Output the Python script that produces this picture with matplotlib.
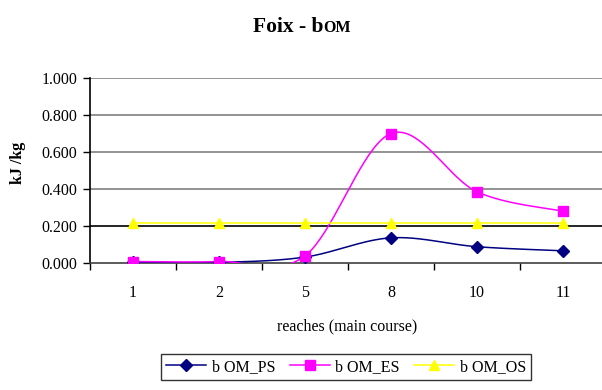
import numpy as np
import matplotlib
matplotlib.use("Agg")
import matplotlib.pyplot as plt
from matplotlib.lines import Line2D

plt.rcParams['font.family'] = ['Liberation Serif', 'DejaVu Serif']

reaches = ["1", "2", "5", "8", "10", "11"]
b_om_ps = [0.003, 0.003, 0.032, 0.136, 0.088, 0.066]
b_om_es = [0.008, 0.008, 0.039, 0.700, 0.385, 0.280]
b_om_os = [0.216, 0.216, 0.216, 0.216, 0.216, 0.216]
y_ticks = [0.0, 0.2, 0.4, 0.6, 0.8, 1.0]


def smooth(xs, ys, n=40):
    """Spline through the points with Bezier segments (Catmull-Rom tangents)."""
    pts = np.column_stack([xs, ys]).astype(float)
    m = len(pts)
    out = [pts[0]]
    t = np.linspace(0, 1, n)[1:, None]
    for i in range(m - 1):
        p0 = pts[max(i - 1, 0)]
        p1 = pts[i]
        p2 = pts[i + 1]
        p3 = pts[min(i + 2, m - 1)]
        c1 = p1 + (p2 - p0) / 6.0
        c2 = p2 - (p3 - p1) / 6.0
        seg = ((1 - t) ** 3) * p1 + 3 * ((1 - t) ** 2) * t * c1 \
            + 3 * (1 - t) * t ** 2 * c2 + t ** 3 * p2
        out.extend(seg)
    out = np.array(out)
    return out[:, 0], out[:, 1]


fig = plt.figure(figsize=(6.02, 3.90), dpi=100)
W, H = 602, 390
ax = fig.add_axes([90 / W, 1 - 263 / H, (606 - 90) / W, (263 - 78) / H])

x = np.arange(len(reaches))
series = [
    (b_om_ps, "#000080", "D", 6, "b OM_PS"),
    (b_om_es, "#FF00FF", "s", 6.5, "b OM_ES"),
    (b_om_os, "#FFFF00", "^", 7.5, "b OM_OS"),
]

# gridlines
for yv in y_ticks[1:]:
    ax.axhline(yv, color="#000000" if abs(yv - 0.2) < 1e-9 else "#808080",
               lw=1.2, zorder=1)

handles = []
for vals, col, mk, ms, lab in series:
    sx, sy = smooth(x, vals)
    ax.plot(sx, sy, color=col, lw=1.1, zorder=3)
    ax.plot(x, vals, ls="none", marker=mk, color=col, ms=ms, zorder=4,
            markeredgecolor=col)
    handles.append(Line2D([], [], color=col, lw=1.1, marker=mk, ms=ms,
                          markeredgecolor=col, label=lab))

ax.set_xlim(-0.5, len(reaches) - 0.5)
ax.set_ylim(0, 1.0)
ax.set_yticks(y_ticks)
ax.set_yticklabels([f"{v:.3f}" for v in y_ticks])
ax.set_xticks(x)
ax.set_xticklabels(reaches)
ax.set_xticks(np.arange(len(reaches) + 1) - 0.5, minor=True)
ax.tick_params(axis="x", which="major", length=0, pad=16, labelsize=11.5)
ax.tick_params(axis="x", which="minor", length=5, width=1, color="#000000",
               direction="out")
ax.tick_params(axis="y", length=5, width=1, direction="out", labelsize=11.5,
               pad=4)

for side in ["top", "right"]:
    ax.spines[side].set_visible(False)
ax.spines["left"].set_color("#000000")
ax.spines["left"].set_linewidth(1.2)
ax.spines["bottom"].set_color("#404040")
ax.spines["bottom"].set_linewidth(1.2)
ax.patch.set_alpha(0)

fig.text(347 / W, 1 - 326 / H, "reaches (main course)", ha="center",
         va="center", fontsize=11.5)
fig.text(18 / W, 1 - 163 / H, "kJ /kg", ha="center", va="center",
         rotation=90, fontsize=11.5, fontweight="bold")

# title with small-caps letters
t1 = fig.text(0, 1 - 32 / H, "Foix - b", ha="left", va="baseline",
              fontsize=15.5, fontweight="bold")
t2 = fig.text(0, 1 - 32 / H, "OM", ha="left", va="baseline",
              fontsize=11.5, fontweight="bold")
fig.canvas.draw()
r = fig.canvas.get_renderer()
w1 = t1.get_window_extent(r).width / W
w2 = t2.get_window_extent(r).width / W
x0 = 302 / W - (w1 + w2) / 2
t1.set_x(x0)
t2.set_x(x0 + w1)

leg = fig.legend(handles=handles, loc="center", ncol=3,
                 bbox_to_anchor=(346 / W, 1 - 367 / H), frameon=True,
                 fancybox=False, edgecolor="#000000", fontsize=11.5,
                 handlelength=2.5, handletextpad=0.35, columnspacing=0.9,
                 borderpad=0.3)
leg.get_frame().set_linewidth(1.0)

fig.savefig("out.png", dpi=100)
